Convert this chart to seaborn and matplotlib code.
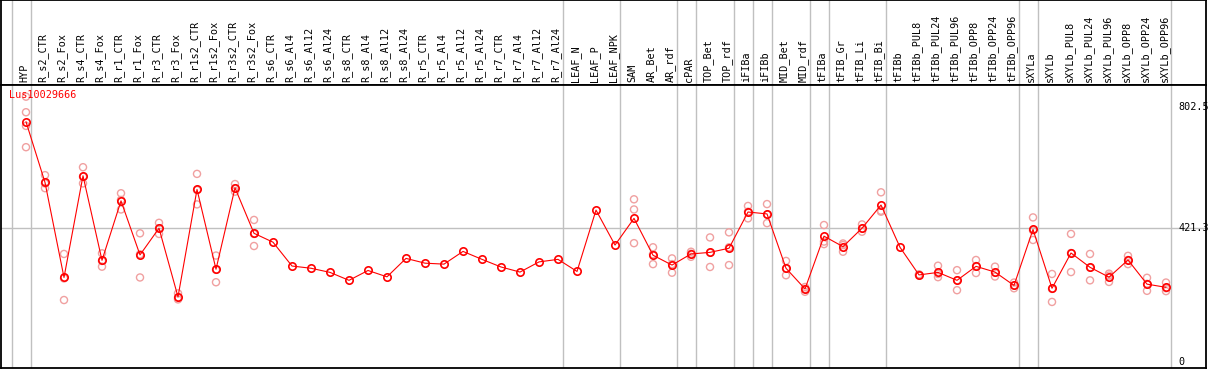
import numpy as np
import pandas as pd
import matplotlib
matplotlib.use("Agg")
import matplotlib.pyplot as plt
import matplotlib.transforms as mtransforms
import seaborn as sns

# Dados
gene = "Lus10029666"

categorias = [
    "HYP", "R_s2_CTR", "R_s2_Fox", "R_s4_CTR", "R_s4_Fox", "R_r1_CTR", "R_r1_Fox",
    "R_r3_CTR", "R_r3_Fox", "R_r1s2_CTR", "R_r1s2_Fox", "R_r3s2_CTR", "R_r3s2_Fox",
    "R_s6_CTR", "R_s6_Al4", "R_s6_Al12", "R_s6_Al24", "R_s8_CTR", "R_s8_Al4",
    "R_s8_Al12", "R_s8_Al24", "R_r5_CTR", "R_r5_Al4", "R_r5_Al12", "R_r5_Al24",
    "R_r7_CTR", "R_r7_Al4", "R_r7_Al12", "R_r7_Al24", "LEAF_N", "LEAF_P", "LEAF_NPK",
    "SAM", "AR_Bet", "AR_rdf", "cPAR", "TOP_Bet", "TOP_rdf", "iFIBa", "iFIBb",
    "MID_Bet", "MID_rdf", "tFIBa", "tFIB_Gr", "tFIB_Li", "tFIB_Bi", "tFIBb",
    "tFIBb_PUL8", "tFIBb_PUL24", "tFIBb_PUL96", "tFIBb_OPP8", "tFIBb_OPP24",
    "tFIBb_OPP96", "sXYLa", "sXYLb", "sXYLb_PUL8", "sXYLb_PUL24", "sXYLb_PUL96",
    "sXYLb_OPP8", "sXYLb_OPP24", "sXYLb_OPP96",
]

# tamanho de cada grupo (separados por linhas cinzas)
grupos = [1, 28, 3, 3, 1, 2, 1, 1, 2, 1, 3, 7, 1, 7]

medias = [
    756, 565, 266, 586, 320, 507, 337, 421, 205, 543, 292, 548, 405,
    377, 302, 295, 282, 257, 288, 268, 326, 311, 308, 348, 323, 299, 283, 315, 323,
    285, 478, 368, 452, 336, 305, 340, 345, 358, 472, 466, 295, 230,
    396, 363, 421, 494, 361, 274, 282, 257, 301, 283, 241,
    417, 232, 343, 298, 267, 321, 245, 235,
]

replicas = [
    [835, 786, 743, 676], [588, 562, 547], [340, 263, 195], [613, 583, 562],
    [342, 318, 300], [531, 510, 480], [405, 339, 266], [438, 421, 403],
    [216, 203, 197], [592, 541, 496], [335, 290, 251], [560, 547, 536],
    [447, 403, 365],
    [], [], [], [], [], [], [], [], [], [], [], [], [], [], [], [], [], [], [],
    [512, 480, 374], [361, 339, 308], [326, 308, 281], [347, 341, 331],
    [392, 344, 299], [408, 361, 305], [491, 473, 452], [497, 464, 437],
    [318, 294, 273], [236, 230, 221], [431, 379, 371], [373, 368, 347],
    [433, 420, 410], [534, 476, 473], [],
    [276, 274, 272], [303, 277, 267], [289, 257, 226], [321, 302, 280],
    [300, 281, 269], [250, 241, 232], [455, 414, 384], [277, 230, 189],
    [403, 343, 283], [340, 297, 257], [278, 272, 252], [334, 321, 308],
    [265, 246, 224], [250, 232, 223],
]

marcas_y = [0, 421.3, 802.5]

sns.set_style("white")
plt.rcParams["font.family"] = ["DejaVu Sans Mono", "DejaVu Sans"]

pos = np.arange(len(categorias))
df_media = pd.DataFrame({"pos": pos, "valor": medias})
df_rep = pd.DataFrame(
    [(i, v) for i, vs in enumerate(replicas) for v in vs], columns=["pos", "valor"]
)

W, H = 1209, 370
fig = plt.figure(figsize=(W / 100, H / 100), dpi=100)
esq, larg = 1 / W, 1205 / W
ax_cab = fig.add_axes([esq, (H - 85) / H, larg, 85 / H])
ax = fig.add_axes([esq, 2 / H, larg, 283 / H])

xlim = (-1.316, 62.105)
for a in (ax_cab, ax):
    a.set_xlim(*xlim)
    a.set_xticks([])
    a.set_yticks([])
    for s in a.spines.values():
        s.set_color("black")
        s.set_linewidth(1.3)

ax_cab.set_ylim(0, 1)
ax.set_ylim(-18.9, 871.7)

# linhas de separação dos grupos
fins = np.concatenate([[-1], np.cumsum(grupos) - 1]) + 0.24
for f in fins:
    for a in (ax_cab, ax):
        a.axvline(f, color="#c0c0c0", lw=1, zorder=0)
ax.axhline(marcas_y[1], color="#c0c0c0", lw=1, zorder=0)

# rótulos das categorias no cabeçalho
for i, nome in enumerate(categorias):
    ax_cab.text(i - 0.1, 0.03, nome, rotation=90, ha="center", va="bottom",
                fontsize=7.3, color="black")

sns.scatterplot(data=df_rep, x="pos", y="valor", ax=ax, s=26, marker="o",
                facecolor="none", edgecolor="#f0a0a0", linewidth=1.0, zorder=2)
sns.lineplot(data=df_media, x="pos", y="valor", ax=ax, color="red", lw=0.8,
             marker="o", markersize=5.3, markerfacecolor="none",
             markeredgecolor="red", markeredgewidth=1.2, zorder=3)
ax.set_xlabel("")
ax.set_ylabel("")

trans = mtransforms.blended_transform_factory(ax.transAxes, ax.transData)
for v in marcas_y:
    ax.text(0.9768, v, f"{v:g}", transform=trans, ha="left", va="center",
            fontsize=7.3, color="black")

ax.text(0.007, 0.965, gene, transform=ax.transAxes, ha="left", va="center",
        fontsize=7.3, color="red")

fig.savefig("out.png", dpi=100)
plt.close()
